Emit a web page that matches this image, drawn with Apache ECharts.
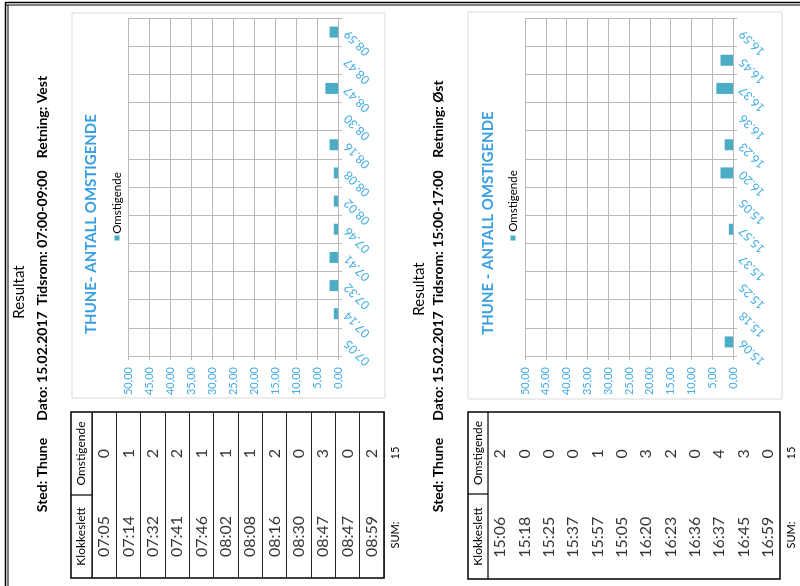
<html>
<head>
<meta charset="utf-8">
<title>Thune - antall omstigende</title>
<script src="https://cdn.jsdelivr.net/npm/echarts@6/dist/echarts.min.js"></script>
</head>
<body style="margin:0;background:#fff;">
<div id="main" style="width:800px;height:586px;"></div>
<script>
// data read from the scanned sheets
var vestTimes = ['07:05', '07:14', '07:32', '07:41', '07:46', '08:02', '08:08', '08:16', '08:30', '08:47', '08:47', '08:59'];
var vestValues = [0, 1, 2, 2, 1, 1, 1, 2, 0, 3, 0, 2];
var ostTimes = ['15:06', '15:18', '15:25', '15:37', '15:57', '15:05', '16:20', '16:23', '16:36', '16:37', '16:45', '16:59'];
var ostValues = [2, 0, 0, 0, 1, 0, 3, 2, 0, 4, 3, 0];
var vestHeader = ['Sted: Thune', 'Dato: 15.02.2017', 'Tidsrom: 07:00-09:00', 'Retning: Vest'];
var ostHeader = ['Sted: Thune', 'Dato: 15.02.2017', 'Tidsrom: 15:00-17:00', 'Retning: Øst'];
var vestTitle = 'THUNE- ANTALL OMSTIGENDE';
var ostTitle = 'THUNE - ANTALL OMSTIGENDE';
var seriesName = 'Omstigende';
var valueMin = 0, valueMax = 50, valueStep = 5;

var FONT = 'Lato';
var BLUE = '#45ade6';
var BAR = '#4BACC6';
var GRID = '#b8b8b8';

function vtext(x, y, text, size, weight, color) {
	return {
		type: 'text', x: x, y: y, rotation: Math.PI / 2,
		style: {
			text: text, fill: color || '#000',
			fontSize: size, fontFamily: FONT, fontWeight: weight || 'normal',
			align: 'center', verticalAlign: 'middle',
			textAlign: 'center', textVerticalAlign: 'middle'
		}
	};
}
function line(x1, y1, x2, y2, w, c) {
	return {type: 'line', shape: {x1: x1, y1: y1, x2: x2, y2: y2}, style: {stroke: c || '#000', lineWidth: w || 1}};
}
function rect(x, y, w, h, stroke, lw, fill) {
	return {type: 'rect', shape: {x: x, y: y, width: w, height: h}, style: {stroke: stroke, lineWidth: lw || 1, fill: fill || 'none'}};
}
function sum(arr) {
	var s = 0;
	arr.forEach(function (v) { s += v; });
	return s;
}

// per-page layout
var pages = [
	{times: vestTimes, values: vestValues, header: vestHeader, title: vestTitle,
	 resX: 19, resY: 292, hdrX: 42, hdrY: [475, 366, 238, 117],
	 box: [72, 13, 313, 385], titleX: 91, titleY: 224, legX: 117, legY: 238, legTextY: 203,
	 grid: {left: 128, width: 210, top: 18, height: 338},
	 table: [71, 412, 313, 166], headW: 21, headSplit: 495, innerLines: true,
	 sumX: 395, sumY: 535, sumValY: 453},
	{times: ostTimes, values: ostValues, header: ostHeader, title: ostTitle,
	 resX: 419, resY: 289, hdrX: 438, hdrY: [475, 366, 238, 119],
	 box: [468, 12, 314, 387], titleX: 488, titleY: 223, legX: 513, legY: 238, legTextY: 201,
	 grid: {left: 525, width: 208, top: 18, height: 338},
	 table: [468, 412, 312, 167], headW: 20, headSplit: 494, innerLines: false,
	 sumX: 791, sumY: 535, sumValY: 453}
];

// grids 0,1 = bar charts, grids 2,3 = tables
var grids = [], xAxes = [], yAxes = [], series = [], graphics = [];

// page frame
graphics.push(line(5, 2.5, 800, 2.5, 1.5));
graphics.push(line(5, 5, 800, 5, 1));
graphics.push(line(5.5, 2, 5.5, 586, 1.5));
graphics.push(line(8, 5, 8, 586, 1));

pages.forEach(function (p, k) {
	grids[k] = {left: p.grid.left, width: p.grid.width, top: p.grid.top, height: p.grid.height};
	xAxes[k] = {
		type: 'value', gridIndex: k, min: valueMin, max: valueMax, interval: valueStep, inverse: true,
		axisLine: {show: true, lineStyle: {color: GRID}},
		axisTick: {show: true, length: 4, lineStyle: {color: GRID}},
		splitLine: {show: true, lineStyle: {color: GRID}},
		axisLabel: {
			rotate: 90, margin: 11, color: BLUE, fontSize: 11, fontFamily: FONT,
			formatter: function (v) { return v.toFixed(2).replace('.', ','); }
		}
	};
	yAxes[k] = {
		type: 'category', gridIndex: k, position: 'right', data: p.times,
		axisLine: {show: true, lineStyle: {color: GRID}},
		axisTick: {show: true, length: 4, interval: 0, lineStyle: {color: GRID}},
		splitLine: {show: true, interval: 0, lineStyle: {color: GRID}},
		axisLabel: {
			rotate: 135, margin: 8, interval: 0, color: BLUE, fontSize: 12, fontFamily: FONT,
			formatter: function (v) { return v.replace(':', '.'); }
		}
	};
	series.push({
		type: 'bar', name: seriesName, xAxisIndex: k, yAxisIndex: k,
		data: p.values, barWidth: 11, itemStyle: {color: BAR}, silent: true
	});

	// table, cells placed by a category axis
	var t = p.table;
	var gi = 2 + k;
	grids[gi] = {left: t[0] + p.headW, width: t[2] - p.headW, top: t[1], height: t[3]};
	xAxes[gi] = {
		type: 'category', gridIndex: gi, data: p.times,
		axisLine: {show: false}, axisTick: {show: false}, axisLabel: {show: false},
		splitLine: {show: p.innerLines, interval: 0, lineStyle: {color: '#222', width: 1}}
	};
	yAxes[gi] = {type: 'value', gridIndex: gi, min: 0, max: 2, show: false, splitLine: {show: false}};
	(function (times, values) {
		series.push({
			type: 'scatter', xAxisIndex: gi, yAxisIndex: gi, symbolSize: 1, silent: true,
			itemStyle: {color: 'rgba(0,0,0,0)'},
			data: times.map(function (tm, i) { return [i, 0.5]; }),
			label: {show: true, position: 'inside', rotate: 90, color: '#000', fontSize: 16, fontFamily: FONT,
				formatter: function (pr) { return times[pr.dataIndex]; }}
		});
		series.push({
			type: 'scatter', xAxisIndex: gi, yAxisIndex: gi, symbolSize: 1, silent: true,
			itemStyle: {color: 'rgba(0,0,0,0)'},
			data: values.map(function (v, i) { return [i, 1.5]; }),
			label: {show: true, position: 'inside', rotate: 90, color: '#000', fontSize: 16, fontFamily: FONT,
				formatter: function (pr) { return String(values[pr.dataIndex]); }}
		});
	})(p.times, p.values);

	// texts and frames
	graphics.push(vtext(p.resX, p.resY, 'Resultat', 15));
	p.header.forEach(function (s, i) {
		graphics.push(vtext(p.hdrX, p.hdrY[i], s, 14, 'bold'));
	});
	graphics.push(rect(p.box[0], p.box[1], p.box[2], p.box[3], '#d9d9d9', 1));
	graphics.push(vtext(p.titleX, p.titleY, p.title, 15, 'bold', '#3a9fe0'));
	graphics.push({type: 'rect', shape: {x: p.legX - 2.5, y: p.legY - 2.5, width: 5, height: 5}, style: {fill: BAR}});
	graphics.push(vtext(p.legX, p.legTextY, seriesName, 11.5));

	graphics.push(rect(t[0], t[1], t[2], t[3], '#000', 1.5));
	graphics.push(line(t[0] + p.headW, t[1], t[0] + p.headW, t[1] + t[3], 1.2));
	graphics.push(line(t[0], p.headSplit, t[0] + p.headW, p.headSplit, 1.2));
	graphics.push(vtext(t[0] + p.headW / 2, (t[1] + p.headSplit) / 2, 'Omstigende', 12));
	graphics.push(vtext(t[0] + p.headW / 2, (p.headSplit + t[1] + t[3]) / 2, 'Klokkeslett', 12));

	graphics.push(vtext(p.sumX, p.sumY, 'SUM:', 11));
	graphics.push(vtext(p.sumX, p.sumValY, String(sum(p.values)), 11));
});

var chart = echarts.init(document.getElementById('main'));
var option = {
	backgroundColor: '#fff',
	animation: false,
	grid: grids,
	xAxis: xAxes,
	yAxis: yAxes,
	series: series,
	graphic: graphics
};
chart.setOption(option);
</script>
</body>
</html>
